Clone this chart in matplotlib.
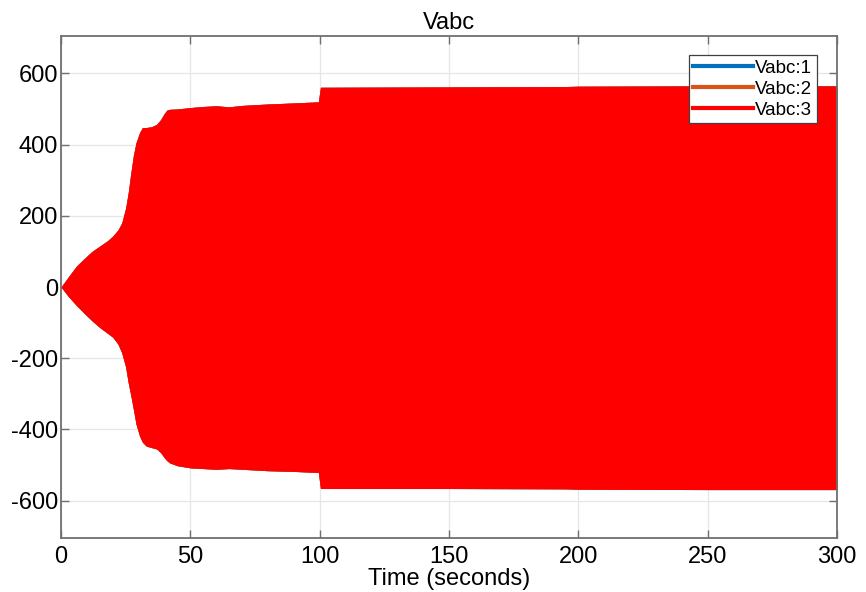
import matplotlib
matplotlib.use("Agg")
import matplotlib.pyplot as plt
from matplotlib.lines import Line2D

# Envelope of the three-phase voltage
time_s = [0, 3, 6, 9, 12, 15, 18, 20, 22, 23.5,
          25, 26, 27, 28, 29, 30.4, 31.5, 33, 35, 37,
          38.5, 40, 41, 42, 45, 50, 55, 60, 65, 70,
          80, 90, 99.5, 100.3, 150, 195, 200, 250, 300]
upper_env = [0, 30, 59, 80, 100, 115, 130, 143, 160, 180,
             222, 265, 320, 370, 405, 434, 448, 448, 450, 457,
             470, 488, 497, 499, 500, 504, 507, 509, 506, 510,
             514, 517, 520, 561, 562, 563, 564, 565, 565]
lower_env = [0, -28, -52, -74, -95, -114, -130, -141, -160, -185,
             -225, -269, -305, -344, -385, -419, -436, -447, -451, -455,
             -465, -480, -488, -494, -502, -508, -510, -512, -510, -512,
             -516, -518, -521, -566, -566, -567, -568, -569, -569]

series_labels = ["Vabc:1", "Vabc:2", "Vabc:3"]
series_colors = ["#0072BD", "#D95319", "#FF0000"]
x_ticks = [0, 50, 100, 150, 200, 250, 300]
y_ticks = [-600, -400, -200, 0, 200, 400, 600]

plt.rcParams['font.family'] = ['Liberation Sans', 'DejaVu Sans']
plt.rcParams['axes.unicode_minus'] = False

fig = plt.figure(figsize=(8.66, 5.92), dpi=100)
ax = fig.add_axes([61/866, 1-538/592, (837-61)/866, (538-36)/592])

for lab, col in zip(series_labels, series_colors):
    ax.fill_between(time_s, lower_env, upper_env, color=col, linewidth=0, label=lab)

ax.set_xlim(0, 300)
ax.set_ylim(-705, 705)
ax.set_xticks(x_ticks)
ax.set_yticks(y_ticks)
ax.set_axisbelow(True)
ax.grid(True, color="#e6e6e6", linewidth=0.9)
ax.tick_params(direction="in", length=6, width=1.0, colors="#707070",
               labelcolor="black", labelsize=17, top=True, right=True)
ax.tick_params(axis="x", pad=6)
ax.tick_params(axis="y", pad=2)
for s in ax.spines.values():
    s.set_color("#707070")
    s.set_linewidth(1.3)

ax.set_title("Vabc", fontsize=17, pad=5)
ax.set_xlabel("Time (seconds)", fontsize=17, labelpad=0)

handles = [Line2D([], [], color=c, linewidth=3) for c in series_colors]
leg = ax.legend(handles, series_labels, loc="upper right",
                bbox_to_anchor=(817/866, 1-55/592), bbox_transform=fig.transFigure,
                fontsize=13.5, frameon=True, fancybox=False, framealpha=1,
                edgecolor="#404040", handlelength=3.2, handletextpad=0.1,
                labelspacing=0.2, borderpad=0.25, borderaxespad=0)
leg.get_frame().set_linewidth(0.9)

fig.savefig("out.png", dpi=100)
